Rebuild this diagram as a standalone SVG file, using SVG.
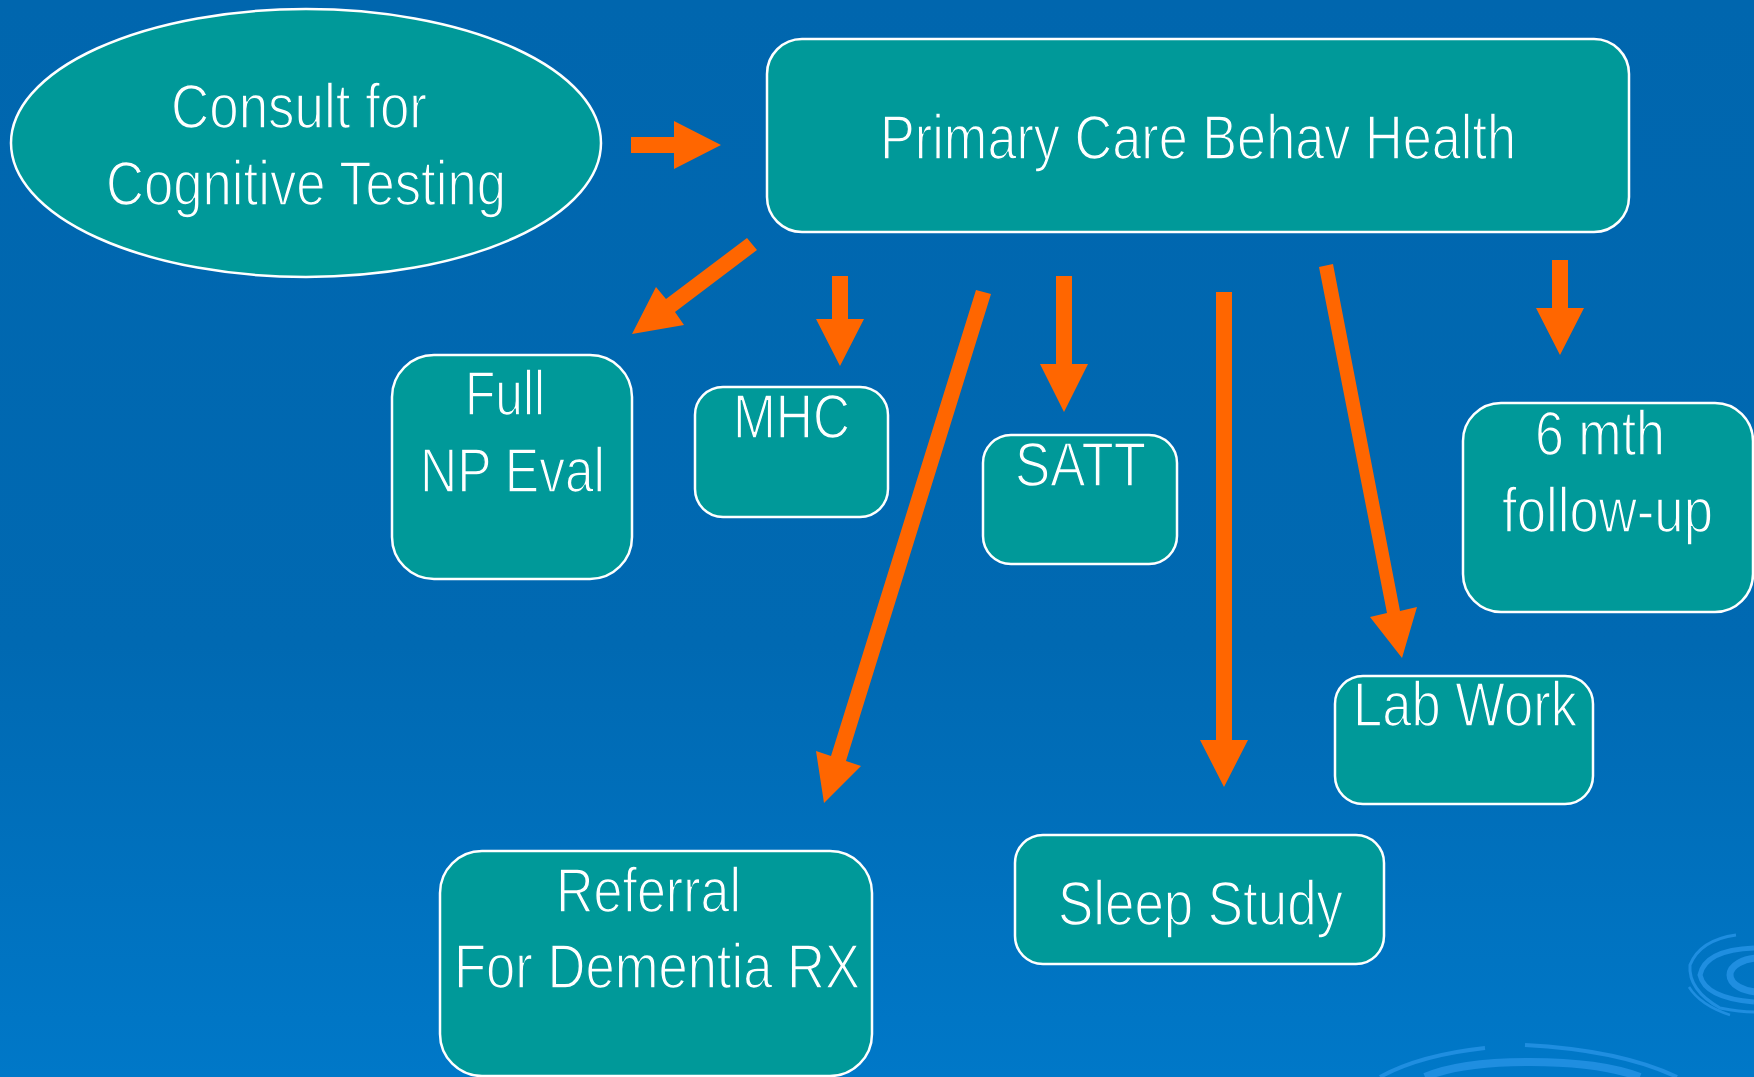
<svg xmlns="http://www.w3.org/2000/svg" width="1754" height="1077" viewBox="0 0 1754 1077">
  <defs>
    <linearGradient id="bg" x1="0" y1="0" x2="0" y2="1">
      <stop offset="0" stop-color="#0066AE"/>
      <stop offset="0.6" stop-color="#0069B2"/>
      <stop offset="1" stop-color="#0078C8"/>
    </linearGradient>
    <style>
      .node { fill: #009999; stroke: #FFFFFF; stroke-width: 2.5; }
      .lbl { font-family: "Liberation Sans Narrow", "Liberation Sans", Arial, sans-serif; font-size: 63px; fill: #FFFFFF; stroke: #009999; stroke-width: 1.6; paint-order: fill; }
      .arrow { fill: #FF6600; stroke: none; }
      .ripple { fill: none; stroke: #1F8EE0; }
    </style>
  </defs>
  <rect x="0" y="0" width="1754" height="1077" fill="url(#bg)"/>

  <g id="decor">
    <path class="ripple" stroke-width="8" d="M1425,1077 Q1460,1062 1530,1062 Q1600,1062 1640,1077"/>
    <path class="ripple" stroke-width="4" d="M1380,1077 Q1420,1055 1485,1048"/>
    <path class="ripple" stroke-width="4" d="M1525,1045 Q1620,1050 1677,1077"/>
    <ellipse class="ripple" stroke-width="7" cx="1760" cy="975" rx="30" ry="17"/>
    <path class="ripple" stroke-width="5" d="M1754,948 Q1705,950 1700,975 Q1705,998 1754,1002"/>
    <path class="ripple" stroke-width="3" d="M1736,935 Q1700,940 1690,965 Q1688,990 1720,1008 Q1740,1012 1754,1012"/>
    <path class="ripple" stroke-width="2.5" d="M1689,987 Q1700,1005 1730,1015"/>
  </g>

  <g id="connectors">
    <polygon class="arrow" points="631,137 674,137 674,121 721,145 674,169 674,153 631,153"/>
    <polygon class="arrow" points="747,238 666,299 656,287 632,334 684,325 675,312 757,250"/>
    <polygon class="arrow" points="832,276 848,276 848,319 864,319 840,366 816,319 832,319"/>
    <polygon class="arrow" points="1056,276 1072,276 1072,364 1088,364 1064,412 1040,364 1056,364"/>
    <polygon class="arrow" points="976,290 831,756 816,751 824,803 861,766 846,761 991,294"/>
    <polygon class="arrow" points="1216,292 1232,292 1232,740 1248,740 1224,787 1200,740 1216,740"/>
    <polygon class="arrow" points="1319,267 1387,613 1370,617 1402,658 1417,607 1400,611 1333,264"/>
    <polygon class="arrow" points="1552,260 1568,260 1568,308 1584,308 1560,355 1536,308 1552,308"/>
  </g>

  <g id="consult">
    <ellipse class="node" cx="306" cy="143" rx="295" ry="134"/>
    <text class="lbl" x="171" y="128" textLength="256" lengthAdjust="spacingAndGlyphs">Consult for</text>
    <text class="lbl" x="106" y="205" textLength="400" lengthAdjust="spacingAndGlyphs">Cognitive Testing</text>
  </g>

  <g id="primary">
    <rect class="node" x="767" y="39" width="862" height="193" rx="35"/>
    <text class="lbl" x="880" y="159" textLength="636" lengthAdjust="spacingAndGlyphs">Primary Care Behav Health</text>
  </g>

  <g id="fullnp">
    <rect class="node" x="392" y="355" width="240" height="224" rx="42"/>
    <text class="lbl" x="465" y="415" textLength="80" lengthAdjust="spacingAndGlyphs">Full</text>
    <text class="lbl" x="420" y="492" textLength="185" lengthAdjust="spacingAndGlyphs">NP Eval</text>
  </g>

  <g id="mhc">
    <rect class="node" x="695" y="387" width="193" height="130" rx="28"/>
    <text class="lbl" x="733" y="438" textLength="117" lengthAdjust="spacingAndGlyphs">MHC</text>
  </g>

  <g id="satt">
    <rect class="node" x="983" y="435" width="194" height="129" rx="28"/>
    <text class="lbl" x="1015" y="486" textLength="131" lengthAdjust="spacingAndGlyphs">SATT</text>
  </g>

  <g id="followup">
    <rect class="node" x="1463" y="403" width="290" height="209" rx="38"/>
    <text class="lbl" x="1535" y="455" textLength="130" lengthAdjust="spacingAndGlyphs">6 mth</text>
    <text class="lbl" x="1502" y="532" textLength="211" lengthAdjust="spacingAndGlyphs">follow-up</text>
  </g>

  <g id="labwork">
    <rect class="node" x="1335" y="676" width="258" height="128" rx="28"/>
    <text class="lbl" x="1353" y="726" textLength="224" lengthAdjust="spacingAndGlyphs">Lab Work</text>
  </g>

  <g id="sleep">
    <rect class="node" x="1015" y="835" width="369" height="129" rx="28"/>
    <text class="lbl" x="1058" y="925" textLength="285" lengthAdjust="spacingAndGlyphs">Sleep Study</text>
  </g>

  <g id="referral">
    <rect class="node" x="440" y="851" width="432" height="225" rx="42"/>
    <text class="lbl" x="556" y="912" textLength="185" lengthAdjust="spacingAndGlyphs">Referral</text>
    <text class="lbl" x="454" y="988" textLength="406" lengthAdjust="spacingAndGlyphs">For Dementia RX</text>
  </g>
</svg>
